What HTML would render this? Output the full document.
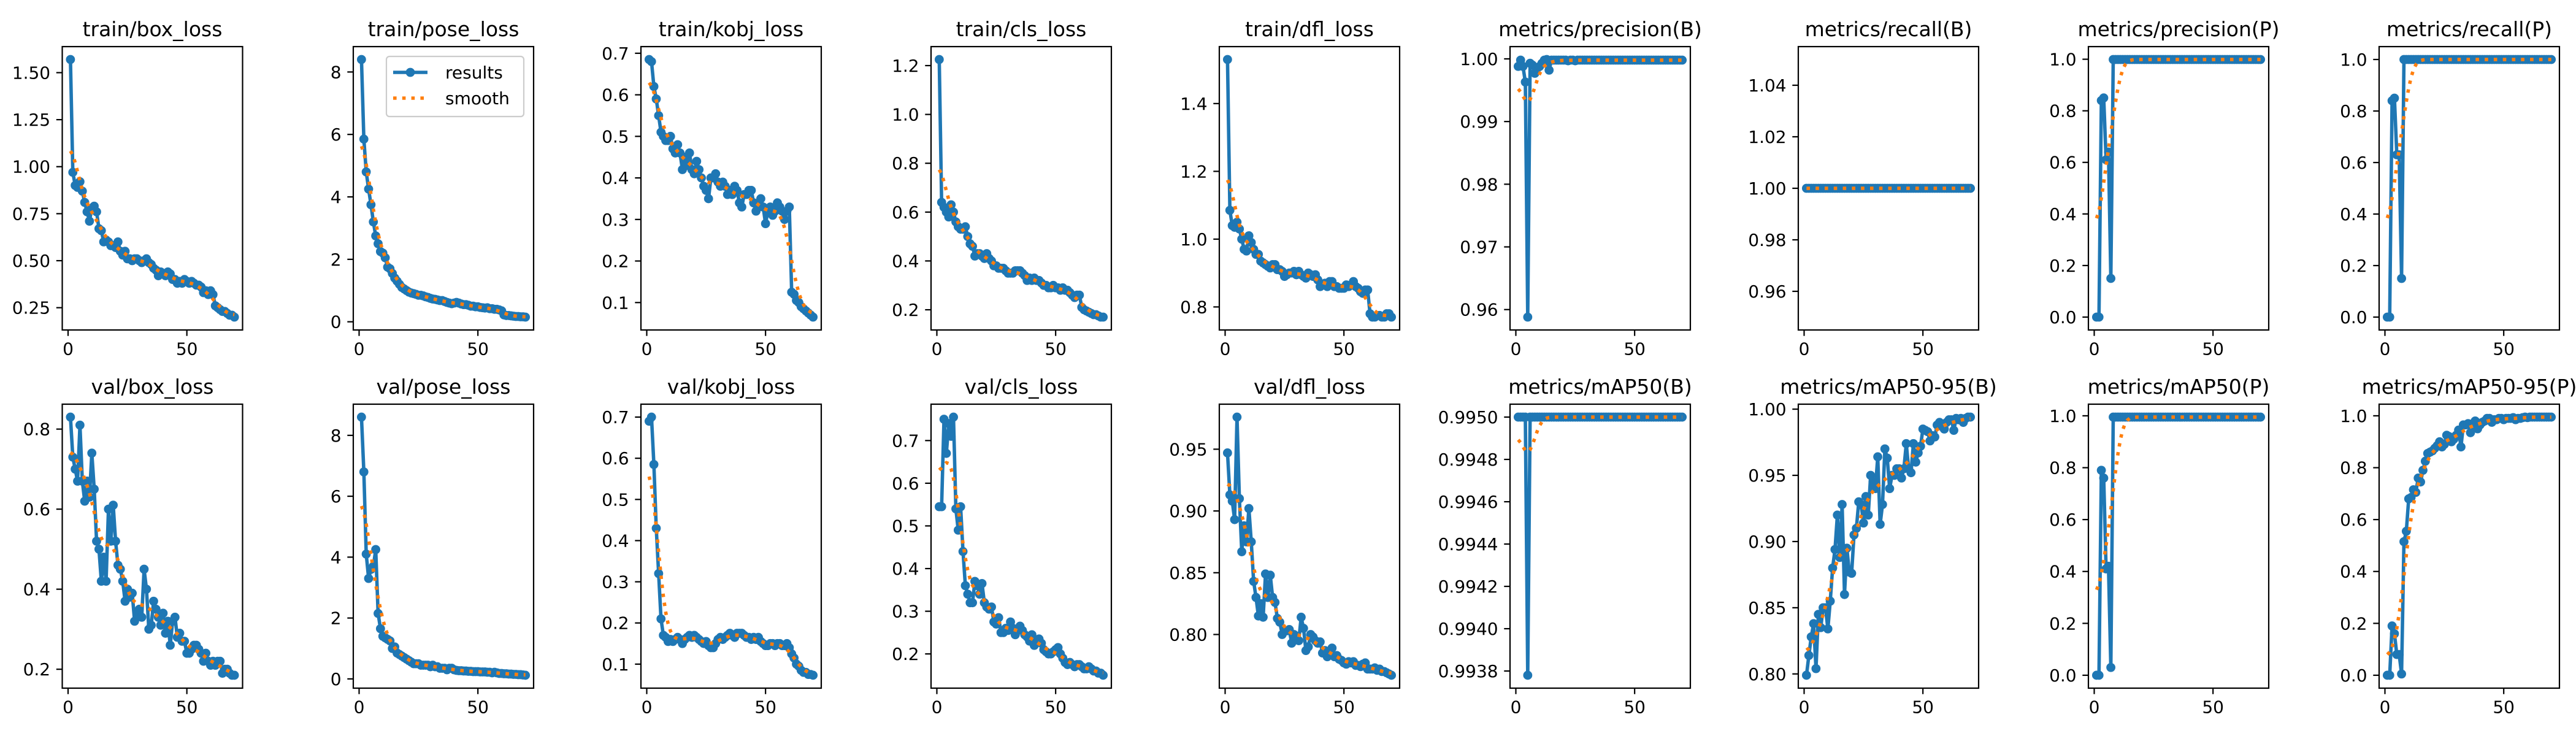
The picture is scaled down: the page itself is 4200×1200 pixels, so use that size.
<!DOCTYPE html>
<html>
<head>
<meta charset="utf-8">
<style>
html,body{margin:0;padding:0;background:#fff;}
svg{display:block;font-family:"DejaVu Sans","Liberation Sans",sans-serif;}
</style>
</head>
<body>
<svg id="fig" width="4200" height="1200" viewBox="0 0 4200 1200" xmlns="http://www.w3.org/2000/svg">
<rect x="0" y="0" width="4200" height="1200" fill="#ffffff"/>
</svg>
<script>
// ---- chart data ----
const panelTitles = ["train/box_loss","train/pose_loss","train/kobj_loss","train/cls_loss","train/dfl_loss","metrics/precision(B)","metrics/recall(B)","metrics/precision(P)","metrics/recall(P)",
"val/box_loss","val/pose_loss","val/kobj_loss","val/cls_loss","val/dfl_loss","metrics/mAP50(B)","metrics/mAP50-95(B)","metrics/mAP50(P)","metrics/mAP50-95(P)"];

const trainBoxLoss = [1.57,0.97,0.90,0.89,0.92,0.87,0.81,0.76,0.71,0.78,0.79,0.76,0.67,0.66,0.60,0.61,0.60,0.58,0.58,0.57,0.60,0.55,0.53,0.55,0.51,0.51,0.50,0.51,0.51,0.50,0.49,0.50,0.51,0.49,0.48,0.46,0.45,0.42,0.44,0.43,0.42,0.44,0.43,0.40,0.40,0.38,0.39,0.38,0.40,0.39,0.38,0.39,0.38,0.37,0.37,0.36,0.33,0.34,0.32,0.34,0.32,0.26,0.25,0.24,0.23,0.23,0.22,0.21,0.21,0.20];
const trainPoseLoss = [8.4,5.85,4.8,4.25,3.75,3.2,2.75,2.5,2.25,2.2,2.05,1.75,1.7,1.55,1.4,1.3,1.2,1.1,1.05,1.0,0.95,0.92,0.9,0.88,0.85,0.85,0.83,0.8,0.78,0.75,0.73,0.72,0.7,0.68,0.68,0.65,0.62,0.6,0.58,0.6,0.62,0.6,0.57,0.55,0.55,0.53,0.5,0.5,0.48,0.48,0.46,0.45,0.44,0.45,0.42,0.42,0.4,0.4,0.38,0.35,0.22,0.2,0.2,0.19,0.18,0.17,0.17,0.16,0.16,0.15];
const trainKobjLoss = [0.685,0.68,0.62,0.59,0.55,0.51,0.50,0.49,0.49,0.50,0.47,0.46,0.48,0.46,0.42,0.45,0.43,0.46,0.42,0.41,0.44,0.42,0.40,0.38,0.37,0.35,0.40,0.40,0.41,0.39,0.38,0.39,0.38,0.36,0.37,0.36,0.38,0.37,0.34,0.33,0.36,0.36,0.37,0.37,0.34,0.32,0.33,0.35,0.33,0.29,0.32,0.33,0.31,0.32,0.34,0.33,0.32,0.30,0.32,0.33,0.125,0.12,0.105,0.10,0.09,0.085,0.08,0.075,0.07,0.065];
const trainClsLoss = [1.225,0.64,0.62,0.60,0.58,0.63,0.60,0.56,0.54,0.53,0.53,0.54,0.50,0.47,0.46,0.42,0.43,0.43,0.42,0.41,0.43,0.41,0.40,0.38,0.38,0.37,0.37,0.37,0.36,0.35,0.35,0.35,0.36,0.36,0.36,0.35,0.34,0.32,0.33,0.32,0.33,0.32,0.32,0.31,0.30,0.30,0.29,0.29,0.30,0.29,0.29,0.28,0.29,0.28,0.28,0.27,0.26,0.25,0.26,0.26,0.21,0.20,0.195,0.19,0.185,0.18,0.18,0.175,0.17,0.17];
const trainDflLoss = [1.53,1.085,1.04,1.035,1.05,1.03,1.0,0.97,0.965,1.01,0.99,0.97,0.955,0.955,0.935,0.93,0.925,0.92,0.915,0.925,0.925,0.91,0.91,0.905,0.89,0.895,0.9,0.9,0.905,0.895,0.905,0.895,0.89,0.885,0.9,0.895,0.89,0.895,0.88,0.86,0.865,0.87,0.86,0.875,0.875,0.86,0.86,0.855,0.855,0.855,0.865,0.86,0.865,0.875,0.86,0.855,0.845,0.84,0.85,0.85,0.78,0.77,0.77,0.775,0.775,0.77,0.77,0.78,0.78,0.77];
const precisionB = [0.9988,0.9998,0.9988,0.9963,0.9588,0.9993,0.9990,0.9977,0.9985,0.9988,0.9993,0.9998,0.9999,0.9982,0.9998,0.9998,0.9998,0.9998,0.9998,0.9998,0.9998,0.9997,0.9998,0.9998,0.9997,0.9998,0.9998,0.9998,0.9998,0.9998,0.9998,0.9998,0.9998,0.9998,0.9998,0.9998,0.9998,0.9998,0.9998,0.9998,0.9998,0.9998,0.9998,0.9998,0.9998,0.9998,0.9998,0.9998,0.9998,0.9998,0.9998,0.9998,0.9998,0.9998,0.9998,0.9998,0.9998,0.9998,0.9998,0.9998,0.9998,0.9998,0.9998,0.9998,0.9998,0.9998,0.9998,0.9998,0.9998,0.9998];
const recallB = [1,1,1,1,1,1,1,1,1,1,1,1,1,1,1,1,1,1,1,1,1,1,1,1,1,1,1,1,1,1,1,1,1,1,1,1,1,1,1,1,1,1,1,1,1,1,1,1,1,1,1,1,1,1,1,1,1,1,1,1,1,1,1,1,1,1,1,1,1,1];
const precisionP = [0,0,0.84,0.85,0.61,0.64,0.15,0.999,0.999,0.999,0.999,0.999,0.999,0.999,0.999,0.999,0.999,0.999,0.999,0.999,0.999,0.999,0.999,0.999,0.999,0.999,0.999,0.999,0.999,0.999,0.999,0.999,0.999,0.999,0.999,0.999,0.999,0.999,0.999,0.999,0.999,0.999,0.999,0.999,0.999,0.999,0.999,0.999,0.999,0.999,0.999,0.999,0.999,0.999,0.999,0.999,0.999,0.999,0.999,0.999,0.999,0.999,0.999,0.999,0.999,0.999,0.999,0.999,0.999,0.999];
const recallP = [0,0,0.84,0.85,0.63,0.63,0.15,1,1,1,1,1,1,1,1,1,1,1,1,1,1,1,1,1,1,1,1,1,1,1,1,1,1,1,1,1,1,1,1,1,1,1,1,1,1,1,1,1,1,1,1,1,1,1,1,1,1,1,1,1,1,1,1,1,1,1,1,1,1,1];
const valBoxLoss = [0.83,0.73,0.70,0.67,0.81,0.67,0.62,0.67,0.63,0.74,0.65,0.52,0.50,0.42,0.48,0.42,0.60,0.52,0.61,0.52,0.46,0.45,0.42,0.37,0.40,0.38,0.39,0.32,0.34,0.35,0.33,0.45,0.40,0.30,0.31,0.37,0.35,0.33,0.31,0.34,0.29,0.32,0.26,0.32,0.33,0.28,0.29,0.27,0.27,0.24,0.24,0.25,0.26,0.26,0.25,0.24,0.22,0.24,0.22,0.21,0.22,0.21,0.22,0.22,0.19,0.20,0.20,0.19,0.185,0.185];
const valPoseLoss = [8.6,6.8,4.1,3.3,3.6,3.7,4.25,2.15,1.65,1.4,1.35,1.3,1.25,1.0,1.05,0.85,0.8,0.75,0.7,0.65,0.6,0.55,0.5,0.5,0.5,0.45,0.45,0.45,0.45,0.4,0.45,0.4,0.4,0.35,0.35,0.35,0.3,0.35,0.35,0.3,0.28,0.27,0.27,0.26,0.26,0.25,0.25,0.24,0.24,0.24,0.23,0.23,0.23,0.22,0.22,0.2,0.22,0.2,0.18,0.18,0.17,0.17,0.16,0.16,0.15,0.15,0.14,0.14,0.13,0.12];
const valKobjLoss = [0.69,0.70,0.585,0.43,0.32,0.21,0.17,0.165,0.155,0.16,0.155,0.16,0.165,0.16,0.15,0.16,0.165,0.17,0.165,0.17,0.165,0.16,0.155,0.15,0.155,0.145,0.14,0.14,0.15,0.16,0.165,0.16,0.165,0.17,0.175,0.17,0.165,0.175,0.175,0.175,0.17,0.165,0.165,0.16,0.165,0.16,0.165,0.155,0.15,0.145,0.145,0.15,0.15,0.145,0.15,0.15,0.145,0.145,0.15,0.14,0.125,0.115,0.10,0.095,0.085,0.08,0.08,0.075,0.075,0.073];
const valClsLoss = [0.545,0.545,0.75,0.67,0.74,0.71,0.755,0.54,0.49,0.545,0.44,0.36,0.34,0.32,0.32,0.37,0.36,0.34,0.365,0.32,0.31,0.305,0.31,0.275,0.27,0.285,0.25,0.25,0.26,0.255,0.275,0.26,0.245,0.255,0.265,0.255,0.245,0.24,0.23,0.245,0.22,0.23,0.235,0.225,0.21,0.205,0.2,0.2,0.205,0.21,0.215,0.2,0.19,0.18,0.175,0.18,0.175,0.17,0.175,0.175,0.17,0.165,0.165,0.17,0.165,0.16,0.16,0.155,0.155,0.15];
const valDflLoss = [0.947,0.913,0.908,0.893,0.976,0.91,0.867,0.888,0.875,0.902,0.875,0.843,0.83,0.815,0.825,0.814,0.849,0.83,0.848,0.83,0.826,0.813,0.81,0.8,0.803,0.803,0.804,0.793,0.8,0.797,0.795,0.814,0.805,0.787,0.79,0.8,0.798,0.795,0.793,0.794,0.785,0.787,0.782,0.786,0.789,0.782,0.783,0.78,0.779,0.777,0.776,0.778,0.777,0.778,0.775,0.775,0.774,0.776,0.777,0.772,0.772,0.772,0.773,0.771,0.772,0.77,0.77,0.769,0.768,0.767];
const mAP50B = [0.995,0.995,0.995,0.995,0.99378,0.995,0.995,0.995,0.995,0.995,0.995,0.995,0.995,0.995,0.995,0.995,0.995,0.995,0.995,0.995,0.995,0.995,0.995,0.995,0.995,0.995,0.995,0.995,0.995,0.995,0.995,0.995,0.995,0.995,0.995,0.995,0.995,0.995,0.995,0.995,0.995,0.995,0.995,0.995,0.995,0.995,0.995,0.995,0.995,0.995,0.995,0.995,0.995,0.995,0.995,0.995,0.995,0.995,0.995,0.995,0.995,0.995,0.995,0.995,0.995,0.995,0.995,0.995,0.995,0.995];
const mAP5095B = [0.799,0.814,0.828,0.838,0.804,0.845,0.835,0.85,0.85,0.834,0.855,0.88,0.894,0.92,0.888,0.928,0.86,0.895,0.877,0.876,0.905,0.91,0.93,0.928,0.914,0.934,0.92,0.95,0.945,0.94,0.964,0.913,0.928,0.97,0.963,0.94,0.95,0.95,0.955,0.955,0.948,0.955,0.974,0.955,0.952,0.974,0.96,0.967,0.972,0.985,0.984,0.983,0.976,0.98,0.979,0.988,0.99,0.987,0.985,0.99,0.992,0.992,0.984,0.993,0.992,0.993,0.99,0.993,0.994,0.994];
const mAP50P = [0,0,0.79,0.76,0.41,0.42,0.03,0.995,0.995,0.995,0.995,0.995,0.995,0.995,0.995,0.995,0.995,0.995,0.995,0.995,0.995,0.995,0.995,0.995,0.995,0.995,0.995,0.995,0.995,0.995,0.995,0.995,0.995,0.995,0.995,0.995,0.995,0.995,0.995,0.995,0.995,0.995,0.995,0.995,0.995,0.995,0.995,0.995,0.995,0.995,0.995,0.995,0.995,0.995,0.995,0.995,0.995,0.995,0.995,0.995,0.995,0.995,0.995,0.995,0.995,0.995,0.995,0.995,0.995,0.995];
const mAP5095P = [0,0,0.19,0.16,0.08,0.08,0.005,0.515,0.555,0.68,0.685,0.715,0.705,0.76,0.745,0.79,0.825,0.855,0.86,0.865,0.875,0.885,0.9,0.88,0.89,0.925,0.92,0.9,0.91,0.925,0.945,0.88,0.965,0.965,0.97,0.935,0.97,0.98,0.95,0.965,0.975,0.98,0.99,0.99,0.975,0.985,0.985,0.99,0.99,0.985,0.99,0.99,0.99,0.993,0.985,0.99,0.99,0.993,0.995,0.993,0.995,0.995,0.995,0.995,0.995,0.995,0.995,0.995,0.995,0.995];

const xTickLabels = ["0","50"];
const yTicks1 = ["0.25","0.50","0.75","1.00","1.25","1.50"];
const yTicks2 = ["0","2","4","6","8"];
const yTicks3 = ["0.1","0.2","0.3","0.4","0.5","0.6","0.7"];
const yTicks4 = ["0.2","0.4","0.6","0.8","1.0","1.2"];
const yTicks5 = ["0.8","1.0","1.2","1.4"];
const yTicks6 = ["0.96","0.97","0.98","0.99","1.00"];
const yTicks7 = ["0.96","0.98","1.00","1.02","1.04"];
const yTicks8 = ["0.0","0.2","0.4","0.6","0.8","1.0"];
const yTicks10 = ["0.2","0.4","0.6","0.8"];
const yTicks12 = ["0.1","0.2","0.3","0.4","0.5","0.6","0.7"];
const yTicks13 = ["0.2","0.3","0.4","0.5","0.6","0.7"];
const yTicks14 = ["0.80","0.85","0.90","0.95"];
const yTicks15 = ["0.9938","0.9940","0.9942","0.9944","0.9946","0.9948","0.9950"];
const yTicks16 = ["0.80","0.85","0.90","0.95","1.00"];

const panelSeries = [trainBoxLoss,trainPoseLoss,trainKobjLoss,trainClsLoss,trainDflLoss,precisionB,recallB,precisionP,recallP,
  valBoxLoss,valPoseLoss,valKobjLoss,valClsLoss,valDflLoss,mAP50B,mAP5095B,mAP50P,mAP5095P];
const panelYTicks = [yTicks1,yTicks2,yTicks3,yTicks4,yTicks5,yTicks6,yTicks7,yTicks8,yTicks8,
  yTicks10,yTicks2,yTicks12,yTicks13,yTicks14,yTicks15,yTicks16,yTicks8,yTicks8];

// ---- layout (not data) ----
const colLeft = [101.5,576,1045,1518,1988,2462,2932,3405,3879];
const axW = 294;
const rowTop = [76,659];
const axH = [462,463];
const BLUE = "#1f77b4", ORANGE = "#ff7f0e";
const MR = 6;
const NS = "http://www.w3.org/2000/svg";
const svg = document.getElementById("fig");

function mk(tag, attrs, parent){
  const e = document.createElementNS(NS, tag);
  for (const k in attrs) e.setAttribute(k, attrs[k]);
  (parent||svg).appendChild(e);
  return e;
}

// gaussian_filter1d(sigma=3, mode='reflect')
function smooth(y, sigma){
  const r = Math.floor(4*sigma+0.5), w=[]; let s=0;
  for (let k=-r;k<=r;k++){const v=Math.exp(-0.5*k*k/(sigma*sigma)); w.push(v); s+=v;}
  const n=y.length, out=[];
  function at(i){
    while(i<0||i>=n){ if(i<0) i=-i-1; if(i>=n) i=2*n-i-1; }
    return y[i];
  }
  for (let i=0;i<n;i++){ let a=0; for(let k=-r;k<=r;k++) a+=w[k+r]*at(i+k); out.push(a/s); }
  return out;
}

function domainOf(vals){
  let lo=Math.min(...vals), hi=Math.max(...vals);
  if (hi-lo < 1e-12){ const d=Math.abs(lo)*0.05||0.05; lo-=d; hi+=d; }
  const m=(hi-lo)*0.05;
  return [lo-m, hi+m];
}

for (let p=0;p<panelSeries.length;p++){
  const row = Math.floor(p/9), col = p%9;
  const L = colLeft[col], T = rowTop[row], H = axH[row], R = L+axW, B = T+H;
  const data = panelSeries[p];
  const n = data.length;
  const xs = data.map((_,i)=>i+1);
  const sm = smooth(data,3);
  const xd = domainOf(xs);
  const yd = domainOf(data.concat(sm));
  const X = v => L + (v-xd[0])/(xd[1]-xd[0])*axW;
  const Y = v => B - (v-yd[0])/(yd[1]-yd[0])*H;

  const g = mk("g",{});
  
  

  const title = mk("text",{x:(L+R)/2, y:T-17, "text-anchor":"middle","font-size":33, fill:"#000"}, g);
  title.textContent = panelTitles[p];
  
  

  let d = "";
  for (let i=0;i<n;i++) d += (i?"L":"M") + X(xs[i]).toFixed(2) + " " + Y(data[i]).toFixed(2);
  const line = mk("path",{d:d, fill:"none", stroke:BLUE, "stroke-width":5.6, "stroke-linejoin":"round","stroke-linecap":"square"}, g);
  
  
  const mg = mk("g",{fill:BLUE, stroke:BLUE, "stroke-width":2.8}, g);
  
  
  for (let i=0;i<n;i++){
    const c = mk("circle",{cx:X(xs[i]).toFixed(2), cy:Y(data[i]).toFixed(2), r:MR}, mg);
    
    
  }
  let ds = "";
  for (let i=0;i<n;i++) ds += (i?"L":"M") + X(xs[i]).toFixed(2) + " " + Y(sm[i]).toFixed(2);
  const sl = mk("path",{d:ds, fill:"none", stroke:ORANGE, "stroke-width":5.6, "stroke-dasharray":"5.6 9.2"}, g);
  
  

  const fr = mk("rect",{x:L, y:T, width:axW, height:H, fill:"none", stroke:"#000", "stroke-width":2.2}, g);
  
  

  for (const lab of xTickLabels){
    const v = parseFloat(lab), xp = X(v);
    const t = mk("line",{x1:xp, y1:B, x2:xp, y2:B+9.7, stroke:"#000","stroke-width":2.2}, g);
    
    
    const tl = mk("text",{x:xp, y:B+19.4+21, "text-anchor":"middle","font-size":28, fill:"#000"}, g);
    tl.textContent = lab;
    
    
  }
  for (const lab of panelYTicks[p]){
    const v = parseFloat(lab), yp = Y(v);
    if (yp < T-1 || yp > B+1) continue;
    const t = mk("line",{x1:L-9.7, y1:yp, x2:L, y2:yp, stroke:"#000","stroke-width":2.2}, g);
    
    
    const tl = mk("text",{x:L-19.4, y:yp+10, "text-anchor":"end","font-size":28, fill:"#000"}, g);
    tl.textContent = lab;
    
    
  }

  if (p === 1){
    const lg = mk("g",{}, g);
    
    
    mk("rect",{x:630, y:92, width:224, height:98, rx:5, fill:"#fff", "fill-opacity":0.8, stroke:"#cccccc", "stroke-width":2.2}, lg);
    const e1 = mk("g",{}, lg);
    
    
    mk("line",{x1:641, y1:118, x2:697, y2:118, stroke:BLUE, "stroke-width":5.6}, e1);
    mk("circle",{cx:669, cy:118, r:MR, fill:BLUE, stroke:BLUE, "stroke-width":2.8}, e1);
    const t1 = mk("text",{x:726, y:128, "font-size":28, fill:"#000"}, e1);
    t1.textContent = "results";
    const e2 = mk("g",{}, lg);
    
    
    mk("line",{x1:641, y1:160, x2:697, y2:160, stroke:ORANGE, "stroke-width":5.6, "stroke-dasharray":"5.6 9.2"}, e2);
    const t2 = mk("text",{x:726, y:170, "font-size":28, fill:"#000"}, e2);
    t2.textContent = "smooth";
  }
}
</script>
</body>
</html>
